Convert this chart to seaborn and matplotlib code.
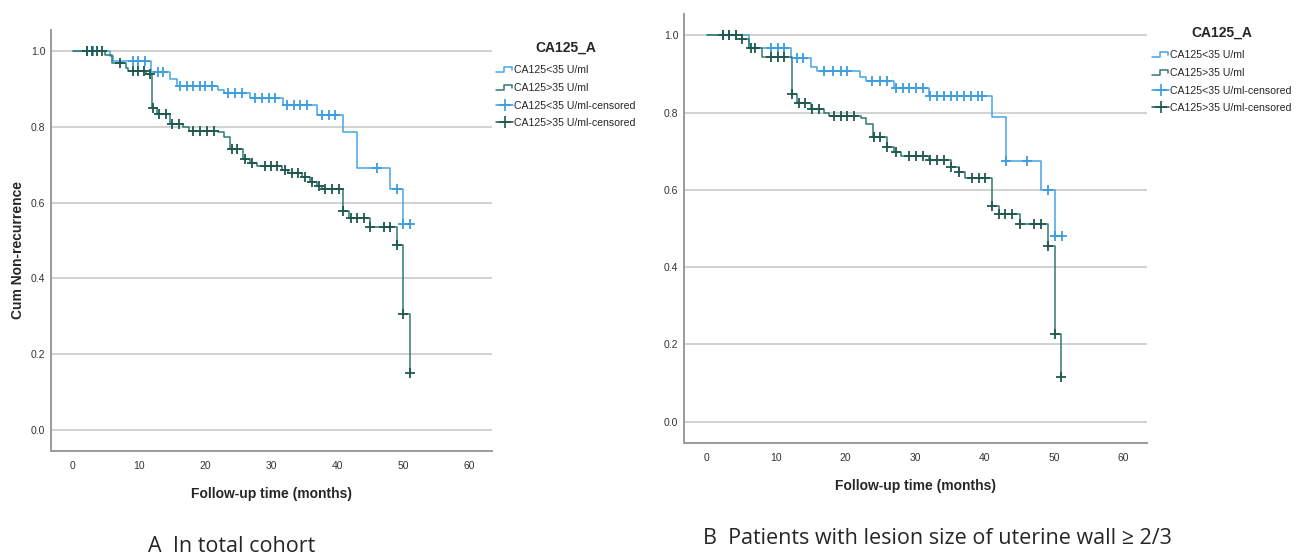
import numpy as np
import pandas as pd
import matplotlib
matplotlib.use("Agg")
import matplotlib.pyplot as plt
import seaborn as sns
from matplotlib.lines import Line2D
from matplotlib.legend_handler import HandlerBase

# --- data (Kaplan-Meier steps + censor times) ---
# panel A: total cohort
a_lo_t = [5.6, 6.1, 11.9, 14.7, 15.7, 22.0, 22.8, 26.8, 31.8, 36.9, 40.9, 43.0, 48.0, 50.0]
a_lo_s = [0.987, 0.973, 0.945, 0.925, 0.908, 0.898, 0.888, 0.877, 0.858, 0.831, 0.785, 0.692, 0.636, 0.543]
a_lo_cens = [2.1, 3.1, 9.1, 9.9, 10.9, 12.9, 13.7, 16.2, 17.2, 18.2, 19.3, 20.0, 21.0, 23.5, 24.6, 25.6,
             27.6, 28.6, 29.6, 30.6, 32.4, 33.4, 34.4, 35.4, 37.7, 38.7, 39.7, 46.0, 49.0, 50.0, 51.0]

a_hi_t = [4.9, 5.9, 8.1, 8.4, 11.0, 11.95, 12.8, 14.7, 16.7, 17.5, 22.0, 22.8, 23.8, 25.7, 26.8, 27.8,
          31.6, 32.6, 34.6, 35.9, 36.9, 37.7, 40.9, 41.7, 45.0, 49.0, 50.0, 51.0]
a_hi_s = [0.990, 0.969, 0.956, 0.948, 0.939, 0.850, 0.833, 0.807, 0.798, 0.790, 0.785, 0.772, 0.741, 0.714,
          0.704, 0.697, 0.686, 0.677, 0.668, 0.655, 0.645, 0.637, 0.579, 0.560, 0.535, 0.489, 0.306, 0.151]
a_hi_cens = [2.1, 2.9, 3.6, 4.4, 7.2, 9.1, 9.9, 10.7, 11.7, 12.2, 13.1, 14.1, 15.0, 16.1, 18.2, 19.3, 20.3,
             21.3, 24.1, 24.9, 26.1, 27.1, 29.1, 30.0, 30.9, 32.1, 33.1, 34.1, 35.1, 36.2, 37.2, 38.2, 39.2,
             40.2, 40.9, 42.0, 43.0, 44.0, 45.0, 47.0, 48.0, 49.0, 50.0, 51.0]

# panel B: lesion size >= 2/3
b_lo_t = [6.1, 12.1, 15.0, 15.9, 22.0, 22.9, 27.0, 32.0, 41.1, 43.1, 48.2, 50.2]
b_lo_s = [0.968, 0.942, 0.918, 0.908, 0.893, 0.881, 0.864, 0.842, 0.789, 0.674, 0.600, 0.480]
b_lo_cens = [2.3, 3.2, 4.2, 9.2, 10.2, 11.1, 13.0, 13.8, 16.9, 18.1, 19.3, 20.2, 23.8, 25.0, 26.0, 27.2,
             28.2, 29.1, 30.1, 31.1, 32.2, 33.2, 34.1, 35.1, 36.1, 37.1, 38.0, 39.0, 39.7, 43.1, 46.1,
             49.1, 50.2, 51.1]

b_hi_t = [5.1, 6.1, 8.0, 12.2, 13.0, 15.0, 16.9, 17.6, 22.2, 22.9, 23.9, 26.0, 27.0, 28.0, 32.0, 35.1,
          36.3, 37.2, 41.1, 42.1, 45.1, 49.1, 50.1, 51.0]
b_hi_s = [0.991, 0.966, 0.944, 0.847, 0.825, 0.809, 0.799, 0.791, 0.785, 0.770, 0.737, 0.711, 0.697,
          0.688, 0.676, 0.659, 0.645, 0.630, 0.559, 0.537, 0.511, 0.455, 0.227, 0.117]
b_hi_cens = [2.3, 3.2, 4.2, 5.1, 6.3, 7.0, 9.2, 10.2, 11.1, 12.2, 13.3, 14.2, 15.2, 16.2, 18.3, 19.3, 20.2,
             21.2, 24.1, 25.0, 26.0, 27.2, 29.1, 30.1, 31.1, 32.2, 33.2, 34.1, 35.1, 36.3, 38.2, 39.2,
             40.1, 41.1, 42.1, 43.0, 44.0, 45.1, 47.1, 48.1, 49.1, 50.1, 51.0]

group_labels = ["CA125<35 U/ml", "CA125>35 U/ml"]
legend_title = "CA125_A"
x_ticks = [0, 10, 20, 30, 40, 50, 60]
y_ticks = [0.0, 0.2, 0.4, 0.6, 0.8, 1.0]

BLUE = "#45a6e6"
BLUE_C = "#3b9ce0"
TEAL = "#2f7a72"
TEAL_C = "#1f574f"

sns.set_style("white")
plt.rcParams["font.family"] = ["Liberation Sans Narrow", "Liberation Sans", "DejaVu Sans"]


def step_frame(times, surv, cens):
    end = max(max(times), max(cens))
    t = [0.0] + list(times) + [end]
    s = [1.0] + list(surv) + [surv[-1]]
    return pd.DataFrame({"t": t, "s": s})


def cens_frame(times, surv, cens):
    t_arr = np.array(times)
    s_arr = np.array([1.0] + list(surv))
    idx = np.searchsorted(t_arr, np.array(cens), side="right")
    return pd.DataFrame({"t": cens, "s": s_arr[idx]})


def draw_km(ax, curves):
    for times, surv, cens, lc, cc in curves:
        sns.lineplot(data=step_frame(times, surv, cens), x="t", y="s", drawstyle="steps-post",
                     color=lc, lw=1.1, estimator=None, sort=False, ax=ax)
        sns.scatterplot(data=cens_frame(times, surv, cens), x="t", y="s", marker="+", s=45,
                        color=cc, linewidth=1.3, ax=ax, zorder=3)
    ax.set_xlim(-3.3, 63.4)
    ax.set_ylim(-0.055, 1.055)
    ax.set_xticks(x_ticks)
    ax.set_yticks(y_ticks)
    ax.set_yticklabels([f"{v:.1f}" for v in y_ticks])
    ax.yaxis.grid(True, color="#d2d2d2", lw=1.4)
    ax.xaxis.grid(False)
    for sp in ["top", "right"]:
        ax.spines[sp].set_visible(False)
    for sp in ["left", "bottom"]:
        ax.spines[sp].set_color("#9a9a9a")
        ax.spines[sp].set_linewidth(1.4)
    ax.tick_params(axis="both", length=0, labelsize=7.5, labelcolor="#333333")
    ax.tick_params(axis="x", pad=7)
    ax.tick_params(axis="y", pad=4)
    ax.set_xlabel("Follow-up time (months)", fontsize=10, fontweight="bold", labelpad=12)
    ax.set_ylabel("")


class StepHandler(HandlerBase):
    def create_artists(self, legend, orig_handle, xdescent, ydescent, width, height, fontsize, trans):
        xs = np.array([0, 0.45, 0.45, 0.95, 0.95]) * width - xdescent
        ys = np.array([0.15, 0.15, 0.85, 0.85, 0.45]) * height - ydescent
        ln = Line2D(xs, ys, color=orig_handle.get_color(), lw=1.1)
        ln.set_transform(trans)
        return [ln]


def add_legend(fig, x, y):
    h_lo = Line2D([], [], color=BLUE)
    h_hi = Line2D([], [], color=TEAL)
    c_lo = Line2D([], [], color=BLUE_C, marker="+", markersize=9, lw=1.1, mew=1.2)
    c_hi = Line2D([], [], color=TEAL_C, marker="+", markersize=9, lw=1.1, mew=1.2)
    labels = group_labels + [g + "-censored" for g in group_labels]
    leg = fig.legend([h_lo, h_hi, c_lo, c_hi], labels, loc="upper left", bbox_to_anchor=(x, y),
                     frameon=False, fontsize=7.6, title=legend_title,
                     title_fontproperties={"weight": "bold", "size": 10},
                     handler_map={h_lo: StepHandler(), h_hi: StepHandler()},
                     handlelength=1.6, handletextpad=0.1, labelspacing=0.72, borderaxespad=0)
    leg._legend_box.align = "center"
    leg._legend_box.sep = 8
    return leg


W, H = 1297, 554
fig = plt.figure(figsize=(W / 100, H / 100), dpi=100)
ax_a = fig.add_axes([51 / W, 1 - 451 / H, (492 - 51) / W, (451 - 30) / H])
ax_b = fig.add_axes([684 / W, 1 - 443 / H, (1147 - 684) / W, (443 - 14) / H])

draw_km(ax_a, [(a_lo_t, a_lo_s, a_lo_cens, BLUE, BLUE_C), (a_hi_t, a_hi_s, a_hi_cens, TEAL, TEAL_C)])
draw_km(ax_b, [(b_lo_t, b_lo_s, b_lo_cens, BLUE, BLUE_C), (b_hi_t, b_hi_s, b_hi_cens, TEAL, TEAL_C)])

fig.text(18 / W, 1 - 250 / H, "Cum Non-recurrence", rotation=90, fontsize=10, fontweight="bold",
         ha="center", va="center")

add_legend(fig, 492 / W, 1 - 36 / H)
add_legend(fig, 1148 / W, 1 - 21 / H)

cap_font = ["Open Sans", "DejaVu Sans"]
fig.text(148 / W, 1 - 546 / H, "A  In total cohort", fontsize=15.5, family=cap_font, ha="left", va="center")
fig.text(703 / W, 1 - 538 / H, "B  Patients with lesion size of uterine wall \u2265 2/3", fontsize=15.5,
         family=cap_font, ha="left", va="center")

fig.savefig("out.png", dpi=100)
